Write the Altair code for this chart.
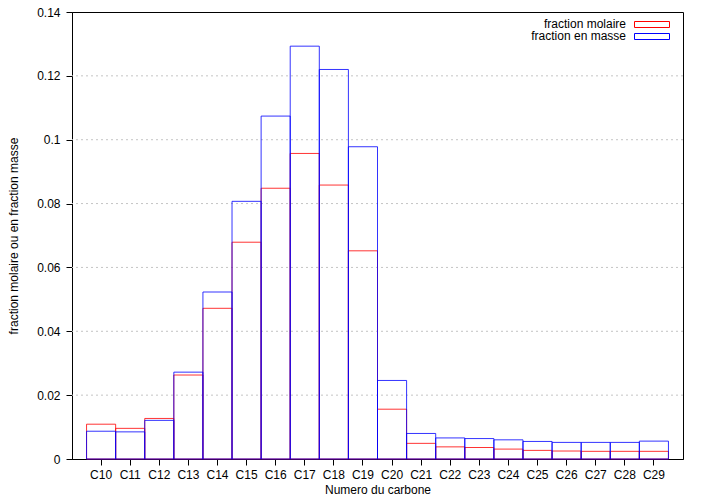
import altair as alt
import pandas as pd

categories = ["C10", "C11", "C12", "C13", "C14", "C15", "C16", "C17", "C18", "C19",
              "C20", "C21", "C22", "C23", "C24", "C25", "C26", "C27", "C28", "C29"]
molaire = [0.0109, 0.0096, 0.0127, 0.0263, 0.0472, 0.0679, 0.0848, 0.0957, 0.0858, 0.0652,
           0.0156, 0.0049, 0.0038, 0.0036, 0.0031, 0.0027, 0.0025, 0.0024, 0.0024, 0.0024]
masse = [0.0087, 0.0085, 0.0121, 0.0272, 0.0523, 0.0807, 0.1074, 0.1293, 0.1220, 0.0978,
         0.0246, 0.0080, 0.0066, 0.0064, 0.0060, 0.0055, 0.0052, 0.0052, 0.0052, 0.0056]
series_names = ["fraction molaire", "fraction en masse"]
y_ticks = [0, 0.02, 0.04, 0.06, 0.08, 0.1, 0.12, 0.14]
grid_vals = [0.02, 0.04, 0.06, 0.08, 0.1, 0.12]

FONT = "Liberation Sans"
df = pd.DataFrame({"carbone": categories, "molaire": molaire, "masse": masse})

xenc = alt.X("carbone:N", sort=categories,
             scale=alt.Scale(paddingInner=0, paddingOuter=0.5),
             axis=alt.Axis(title="Numero du carbone", labelAngle=0, labelPadding=4,
                           titlePadding=4))
yscale = alt.Scale(domain=[0, 0.14], nice=False, zero=True)
yaxis = alt.Axis(title="fraction molaire ou en fraction masse", values=y_ticks,
                 format="~g", labelPadding=6, titlePadding=16, grid=False)

grid = alt.Chart(pd.DataFrame({"v": grid_vals})).mark_rule(
    stroke="#c4c4c4", strokeDash=[2, 3], strokeWidth=1
).encode(y=alt.Y("v:Q", scale=yscale, axis=yaxis))

bars_mol = alt.Chart(df).mark_bar(fill="transparent", stroke="#ff0000", strokeWidth=1,
                                  strokeOpacity=0.8).encode(
    x=xenc, y=alt.Y("molaire:Q", scale=yscale, axis=yaxis))
bars_mas = alt.Chart(df).mark_bar(fill="transparent", stroke="#0000ff", strokeWidth=1,
                                  strokeOpacity=0.8).encode(
    x=xenc, y=alt.Y("masse:Q", scale=yscale, axis=yaxis))

leg1_text = alt.Chart(pd.DataFrame({"label": [series_names[0]]})).mark_text(
    align="right", baseline="middle", font=FONT, fontSize=12, color="black"
).encode(text="label:N", x=alt.value(554), y=alt.value(12))
leg1_box = alt.Chart(pd.DataFrame({"label": [series_names[0]]})).mark_rect(
    fill="transparent", stroke="#ff0000", strokeWidth=1
).encode(x=alt.value(562.5), x2=alt.value(597.5), y=alt.value(9.5), y2=alt.value(15.5))
leg2_text = alt.Chart(pd.DataFrame({"label": [series_names[1]]})).mark_text(
    align="right", baseline="middle", font=FONT, fontSize=12, color="black"
).encode(text="label:N", x=alt.value(554), y=alt.value(24))
leg2_box = alt.Chart(pd.DataFrame({"label": [series_names[1]]})).mark_rect(
    fill="transparent", stroke="#0000ff", strokeWidth=1
).encode(x=alt.value(562.5), x2=alt.value(597.5), y=alt.value(21.5), y2=alt.value(27.5))

chart = alt.layer(grid, bars_mol, bars_mas, leg1_text, leg1_box, leg2_text, leg2_box).properties(
    width=611, height=447,
    padding={"left": 64, "top": 4, "right": 14, "bottom": 37},
    autosize=alt.AutoSizeParams(type="none"),
    background="white",
).configure_view(
    stroke="black", strokeWidth=1
).configure_axis(
    domainColor="black", tickColor="black", labelColor="black", titleColor="black",
    labelFont=FONT, titleFont=FONT, labelFontSize=12, titleFontSize=12,
    titleFontWeight="normal", tickSize=6, domainWidth=1, tickWidth=1
)

chart.save("out.html", embed_options={"renderer": "svg", "actions": False})
